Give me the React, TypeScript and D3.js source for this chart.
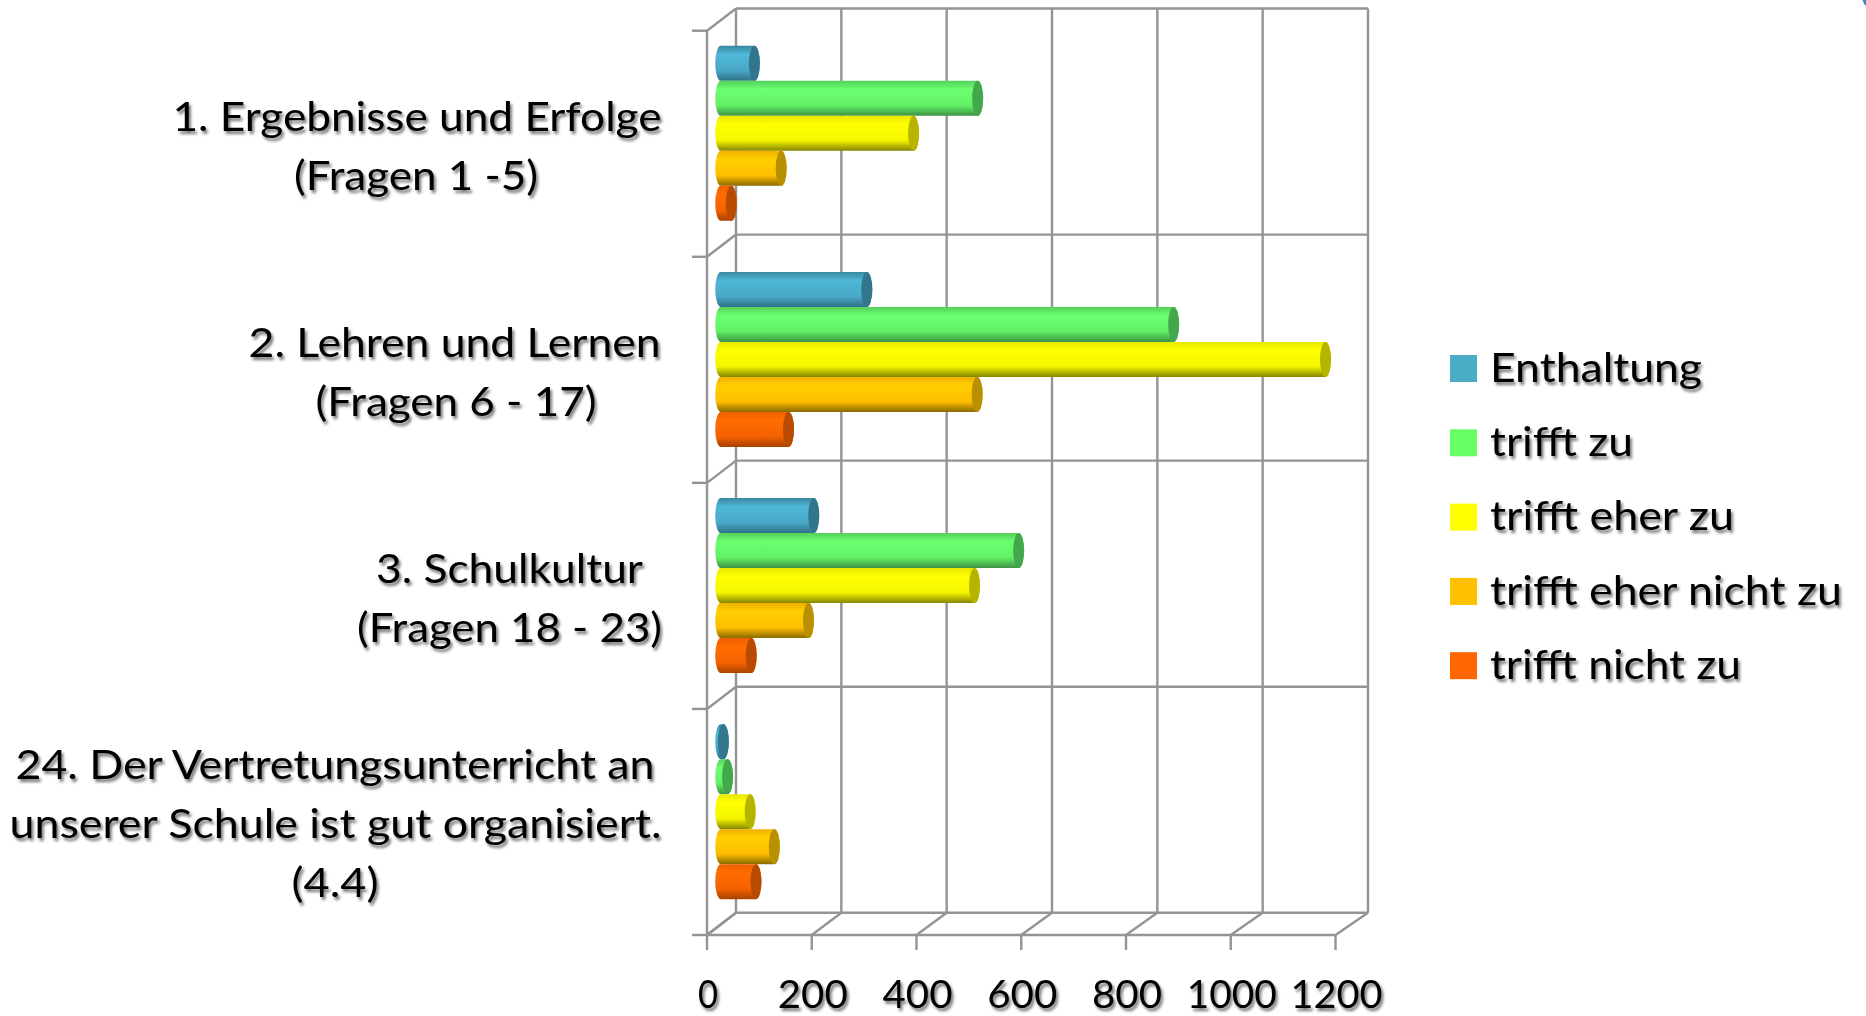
import React from "react";
import * as d3 from "d3";

const categories = ["q1", "q2", "q3", "q4"];
const categoryLines = [
  ["1. Ergebnisse und Erfolge", "(Fragen 1 -5)"],
  ["2. Lehren und Lernen", "(Fragen 6 - 17)"],
  ["3. Schulkultur", "(Fragen 18 - 23)"],
  ["24. Der Vertretungsunterricht an", "unserer Schule ist gut organisiert.", "(4.4)"],
];
const seriesNames = ["Enthaltung", "trifft zu", "trifft eher zu", "trifft eher nicht zu", "trifft nicht zu"];
const enthaltung = [64, 278, 177, 5];
const trifftZu = [489, 862, 567, 13];
const trifftEherZu = [367, 1151, 483, 56];
const trifftEherNichtZu = [115, 488, 167, 102];
const trifftNichtZu = [20, 129, 58, 67];
const seriesValues = [enthaltung, trifftZu, trifftEherZu, trifftEherNichtZu, trifftNichtZu];
const xTicks = [0, 200, 400, 600, 800, 1000, 1200];

const swatch = ["#4bacc6", "#66ff66", "#ffff00", "#ffc000", "#ff6600"];
const ramps = [
  ["#3a87a0", "#4fb8d8", "#4aa8c6", "#2f7189"],
  ["#55d05c", "#6cff70", "#62f066", "#3d9245"],
  ["#e8e800", "#ffff00", "#f5f500", "#858500"],
  ["#eeb000", "#ffd000", "#ffbe00", "#8a6a00"],
  ["#f06000", "#ff6c00", "#f56200", "#a84300"],
];
const caps = ["#33768d", "#43a84c", "#b5b500", "#b89000", "#b84c00"];

const FONT = "Lato, 'Open Sans', sans-serif";
const DY = 22.2;
const x = d3.scaleLinear().domain([0, 1200]).range([707, 1335.5]);
const xBack = d3.scaleLinear().domain([0, 1200]).range([736, 1368]);
const xBar = d3.scaleLinear().domain([0, 1200]).range([720.75, 1351.25]);
const yFront = d3.scaleBand<string>().domain(categories).range([30.7, 935]);
const yMid = d3.scaleBand<string>().domain(categories).range([20.3, 924.7]);
const ySeries = d3.scaleBand<string>().domain(seriesNames).range([0, yMid.bandwidth()]).paddingInner(0).paddingOuter(0.73);

const RX = 5.5;
const GRID = "#949494";

const labelBaselines = [[131, 190], [357, 416], [583, 642], [779, 838, 897]];
const labelCenters = [[417, 416], [454.6, 456], [509.5, 509.5], [335, 335.6, 335]];
const labelWidths = [[489, 244], [412, 281], [267, 305], [639, 652, 87]];
const legendWidths = [212, 143, 244, 352, 251];
const tickWidths = [20, 70, 70, 70, 70, 90, 92];

function cylinder(x0: number, x1: number, y: number, h: number) {
  const ry = h / 2;
  return `M${x0},${y}L${x1},${y}A${RX},${ry} 0 0 1 ${x1},${y + h}L${x0},${y + h}A${RX},${ry} 0 0 1 ${x0},${y}Z`;
}

export default function App() {
  const x0 = xBar(0);
  return (
    <svg width={1866} height={1016} style={{ position: "fixed", left: 0, top: 0, background: "#fff" }}>
      <defs>
        {ramps.map((r, i) => (
          <linearGradient key={i} id={`g${i}`} x1="0" y1="0" x2="0" y2="1">
            <stop offset="0" stopColor={r[0]} />
            <stop offset="0.25" stopColor={r[1]} />
            <stop offset="0.7" stopColor={r[2]} />
            <stop offset="1" stopColor={r[3]} />
          </linearGradient>
        ))}
        <filter id="soft" x="-5%" y="-5%" width="110%" height="110%">
          <feGaussianBlur stdDeviation="0.5" />
        </filter>
        <filter id="shadow" x="-5%" y="-20%" width="110%" height="150%">
          <feGaussianBlur in="SourceAlpha" stdDeviation="1.6" result="b" />
          <feOffset in="b" dx="2" dy="2.5" result="o" />
          <feComponentTransfer in="o" result="s"><feFuncA type="linear" slope="0.55" /></feComponentTransfer>
          <feGaussianBlur in="SourceGraphic" stdDeviation="0.4" result="t" />
          <feMerge><feMergeNode in="s" /><feMergeNode in="t" /></feMerge>
        </filter>
      </defs>

      <g stroke={GRID} strokeWidth={2.4} fill="none" filter="url(#soft)">
        {xTicks.map((t) => (
          <g key={t}>
            <line x1={xBack(t)} x2={xBack(t)} y1={yFront(categories[0])! - DY} y2={935 - DY} />
            <line x1={x(t)} x2={xBack(t)} y1={935} y2={935 - DY} />
            <line x1={x(t)} x2={x(t)} y1={935} y2={950} />
          </g>
        ))}
        {[...categories.map((c) => yFront(c)!), 935].map((y, i) => (
          <g key={i}>
            <line x1={xBack(0)} x2={xBack(1200)} y1={y - DY} y2={y - DY} />
            <line x1={x(0)} x2={xBack(0)} y1={y} y2={y - DY} />
            <line x1={692} x2={x(0)} y1={y} y2={y} />
          </g>
        ))}
        <line x1={x(0)} x2={x(0)} y1={yFront(categories[0])!} y2={935} />
        <line x1={x(0)} x2={x(1200)} y1={935} y2={935} />
      </g>

      <g filter="url(#soft)">
        {categories.map((c, ci) =>
          seriesNames.map((s, si) => {
            const top = yMid(c)! + ySeries(s)!;
            const h = ySeries.bandwidth();
            const xe = xBar(seriesValues[si][ci]);
            return (
              <g key={s}>
                <path d={cylinder(x0, xe, top, h)} fill={`url(#g${si})`} />
                <ellipse cx={xe} cy={top + h / 2} rx={RX} ry={h / 2} fill={caps[si]} />
              </g>
            );
          })
        )}
      </g>

      <g fontFamily={FONT} fontSize={41} fill="#000" filter="url(#shadow)">
        {categoryLines.map((lines, i) =>
          lines.map((l, j) => (
            <text key={j} x={labelCenters[i][j]} y={labelBaselines[i][j]} textAnchor="middle"
              textLength={labelWidths[i][j]} lengthAdjust="spacingAndGlyphs">{l}</text>
          ))
        )}
        {xTicks.map((t, i) => (
          <text key={t} x={x(t) + 1} y={1007.5} textAnchor="middle" fontSize={39}
            textLength={tickWidths[i]} lengthAdjust="spacingAndGlyphs">{t}</text>
        ))}
        {seriesNames.map((s, i) => (
          <text key={s} x={1490} y={381.7 + i * 74.3} textLength={legendWidths[i]} lengthAdjust="spacingAndGlyphs">{s}</text>
        ))}
      </g>

      <g>
        {seriesNames.map((s, i) => (
          <rect key={s} x={1450} y={355 + i * 74.3} width={27} height={27} fill={swatch[i]} />
        ))}
      </g>

      <path d="M1862.5,0H1866V6Q1863.5,4 1862.5,0Z" fill="#4a7fc4" />
    </svg>
  );
}
